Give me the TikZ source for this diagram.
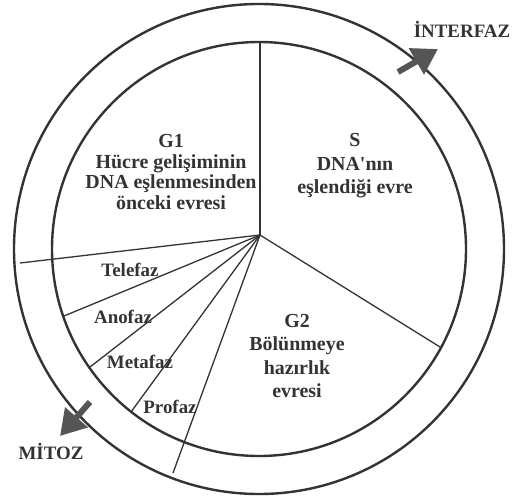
\documentclass[tikz,border=0pt]{standalone}
\usepackage{fontspec}
\setmainfont{Liberation Serif}
\usetikzlibrary{arrows.meta}
\definecolor{ink}{HTML}{333333}
\definecolor{arrowgray}{HTML}{555555}
\tikzset{
  ring/.style={line width=2.4bp, draw=ink},
  spoke/.style={line width=1.3bp, draw=ink},
  phase/.style={text=ink, font=\bfseries\fontsize{19}{20.5}\selectfont, align=center, inner sep=0pt},
  blockphase/.style={phase, font=\bfseries\fontsize{20}{20.5}\selectfont},
  loosephase/.style={phase, font=\bfseries\fontsize{20}{23.5}\selectfont},
  bigarrow/.style={line width=6bp, draw=arrowgray, -{Triangle[length=25bp,width=29bp,fill=arrowgray]}}
}
\begin{document}
\begin{tikzpicture}[x=1bp, y=-1bp]
    \useasboundingbox (0,0) rectangle (523,496);

    % Draw the two rings
    \coordinate (centre) at (259,249);
    \draw[ring] (centre) circle (245bp);
    \draw[ring] (centre) circle (207bp);

    % Draw the spokes from the hub
    \coordinate (hub) at (260,235);
    \coordinate (top) at (260,42);
    \coordinate (gtwoend) at (440,347);
    \coordinate (mitozend) at (20,263);
    \coordinate (teloend) at (64,316);
    \coordinate (anoend) at (90,367);
    \coordinate (metaend) at (131,412);
    \coordinate (proend) at (173,473);
    \draw[spoke] (hub) -- (top);
    \draw[spoke] (hub) -- (gtwoend);
    \draw[spoke] (hub) -- (mitozend);
    \draw[spoke] (hub) -- (teloend);
    \draw[spoke] (hub) -- (anoend);
    \draw[spoke] (hub) -- (metaend);
    \draw[spoke] (hub) -- (proend);

    % Label the phases
    \node[blockphase] (gone) at (171,172) {G1\\Hücre gelişiminin\\DNA eşlenmesinden\\önceki evresi};
    \node[loosephase] (sphase) at (355,166) {S\\DNA\textquotesingle nın\\eşlendiği evre};
    \node[loosephase] (gtwo) at (297,356) {G2\\Bölünmeye\\hazırlık\\evresi};
    \node[phase] (telofaz) at (130,270) {Telefaz};
    \node[phase] (anofaz) at (123,317) {Anofaz};
    \node[phase] (metafaz) at (140,362) {Metafaz};
    \node[phase] (profaz) at (170,407) {Profaz};

    % Arrows on the outer ring
    \node[phase] (interfaz) at (462,29) {İNTERFAZ};
    \node[phase] (mitoz) at (51,451) {MİTOZ};
    \coordinate (iarrowfrom) at (398,72);
    \coordinate (iarrowto) at (438,49);
    \coordinate (marrowfrom) at (90,402);
    \coordinate (marrowto) at (60,436);
    \draw[bigarrow] (iarrowfrom) -- (iarrowto);
    \draw[bigarrow] (marrowfrom) -- (marrowto);
\end{tikzpicture}
\end{document}
